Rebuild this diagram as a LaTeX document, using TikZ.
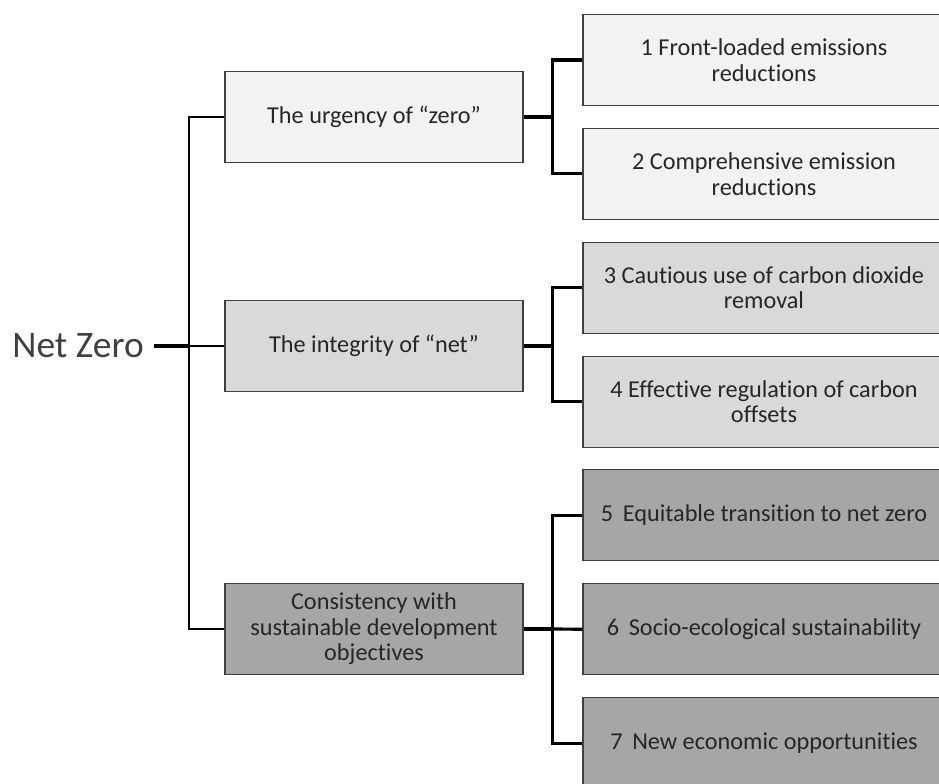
\documentclass[tikz,border=0pt]{standalone}
\usepackage{fontspec}
\setmainfont{Carlito}[Ligatures={NoCommon,NoRare,NoContextual}]
\usetikzlibrary{positioning}

\definecolor{palebox}{HTML}{F2F2F2}
\definecolor{midbox}{HTML}{D9D9D9}
\definecolor{darkbox}{HTML}{A6A6A6}
\definecolor{edgegray}{HTML}{404040}
\definecolor{textgray}{HTML}{262626}

\begin{document}
\begin{tikzpicture}
    [
        node distance=2.277cm, on grid,
        box/.style={rectangle, draw=edgegray, line width=0.6pt, text=textgray, align=center,
            font=\fontsize{13.8}{14.6}\selectfont, minimum height=1.82cm, inner sep=0pt},
        goal_box/.style={box, minimum width=5.96cm},
        item_box/.style={box, minimum width=7.24cm},
        link/.style={line width=1.8pt, color=black},
    ]
        \useasboundingbox (0,0) rectangle (18.78,-15.68) ;
        \clip (0,0) rectangle (18.78,-15.68) ;
        % second level
        \node[item_box, fill=palebox] (s1) at (15.28,-1.2) {1 Front-loaded emissions\\reductions} ;
        \node[item_box, fill=palebox] (s2) [below = of s1] {2 Comprehensive emission\\reductions} ;
        \node[item_box, fill=midbox] (s3) [below = of s2] {3 Cautious use of carbon dioxide\\removal} ;
        \node[item_box, fill=midbox] (s4) [below = of s3] {4 Effective regulation of carbon\\offsets} ;
        \node[item_box, fill=darkbox] (s5) [below = of s4] {5\hspace{0.4em}Equitable transition to net zero} ;
        \node[item_box, fill=darkbox] (s6) [below = of s5] {6\hspace{0.4em}Socio-ecological sustainability} ;
        \node[item_box, fill=darkbox] (s7) [below = of s6] {7\hspace{0.4em}New economic opportunities} ;
        % first level
        \node[goal_box, fill=palebox] (zero) at (7.48,-2.34) {The urgency of “zero”} ;
        \node[goal_box, fill=midbox] (net) at (7.48,-6.92) {The integrity of “net”} ;
        \node[goal_box, fill=darkbox] (sdg) at (7.48,-12.58) {Consistency with\\sustainable development\\objectives} ;
        \node[text=edgegray, font=\fontsize{21.3}{25}\selectfont, inner sep=0.2cm] (root) at (1.56,-6.92) {Net Zero} ;
        \coordinate (hub) at (3.78,-6.92) ;
        % connectors
        \draw[line width=2.3pt] (root.east) -- (hub) ;
        \draw[line width=1.5pt] (zero.west) -| (hub) |- (sdg.west) ;
        \draw[line width=1.5pt] (hub) -- (net.west) ;
        \draw[link] (zero.east) -- ++(0.58,0) coordinate (jz) ;
        \draw[link] (s1.west) -| (jz) |- (s2.west) ;
        \draw[link] (net.east) -- ++(0.58,0) coordinate (jn) ;
        \draw[link] (s3.west) -| (jn) |- (s4.west) ;
        \draw[link] (sdg.east) -- ++(0.58,0) coordinate (js) ;
        \draw[link] (s5.west) -| (js) |- (s7.west) ;
        \draw[link] (js) -- (s6.west) ;
    \end{tikzpicture}
\end{document}
